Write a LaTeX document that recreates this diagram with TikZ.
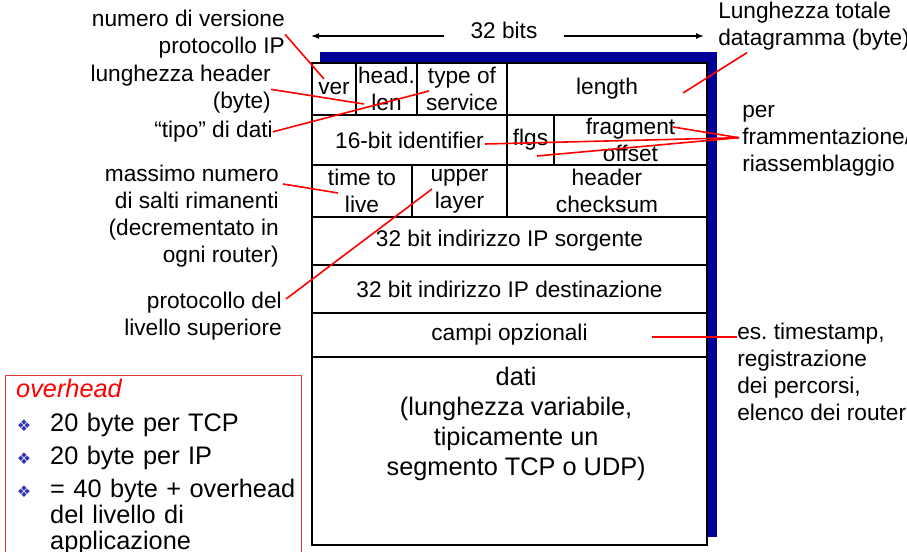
\documentclass[tikz,border=0pt]{standalone}
\usepackage{fontspec}
\setmainfont{Liberation Sans}
\newfontfamily\dingfont{DejaVu Sans}
\usetikzlibrary{arrows.meta,positioning,calc}

\definecolor{shadowblue}{RGB}{0,0,150}
\definecolor{bulletblue}{RGB}{51,51,178}
\definecolor{boxred}{RGB}{230,60,60}
\newcommand{\labfont}{\fontsize{17}{20.25}\selectfont}
\newcommand{\datafont}{\fontsize{19}{22.5}\selectfont}
\newcommand{\boxfont}{\fontsize{19}{19.5}\selectfont}
\newcommand{\ovbullet}{\hspace*{0.5pt}{\dingfont\fontsize{12}{12}\selectfont\textcolor{bulletblue}{❖}}}
\frenchspacing

\begin{document}
\begin{tikzpicture}[x=0.75pt,y=-0.75pt,>=Latex,
  field/.style={draw=black,line width=1.3pt,fill=white,inner sep=0pt,align=center,font=\labfont},
  cell/.style n args={2}{minimum width=#1*0.75pt,minimum height=#2*0.75pt},
  note/.style={inner sep=0pt,font=\labfont},
  pointer/.style={draw=red,line width=1.2pt}]
\useasboundingbox (0,0) rectangle (907,552);

% width of the header
\node[note,inner xsep=20pt] (bits) at (504,30) {32 bits};
\coordinate (bl) at (311,36);
\coordinate (br) at (704,36);
\draw[-{Latex[length=6pt,width=4.5pt]},line width=1.1pt] (bits.west |- bl) -- (bl);
\draw[-{Latex[length=6pt,width=4.5pt]},line width=1.1pt] (bits.east |- br) -- (br);

% datagram
\fill[shadowblue] (320,52) rectangle (717,537);
\node[field,cell={44}{52}] (ver) at (334,89) {ver};
\node[field,cell={61}{52}] (hlen) at (386.5,89) {head.\\len};
\node[field,cell={90}{52}] (tos) at (462,89) {type of\\service};
\node[field,cell={200}{52}] (len) at (607,89) {length};
\node[field,cell={195}{50}] (ident) at (409.5,140) {16-bit identifier};
\node[field,cell={47}{50}] (flgs) at (530.5,140) {flgs};
\node[field,cell={153}{50}] (frag) at (630.5,140) {fragment\\offset};
\node[field,cell={100}{52}] (ttl) at (362,191) {time to\\live};
\node[field,cell={95}{52}] (proto) at (459.5,191) {upper\\layer};
\node[field,cell={200}{52}] (csum) at (607,191) {header\\checksum};
\node[field,cell={395}{48}] (src) at (509.5,241) {32 bit indirizzo IP sorgente};
\node[field,cell={395}{48}] (dst) at (509.5,289) {32 bit indirizzo IP destinazione};
\node[field,cell={395}{44}] (opt) at (509.5,335) {campi opzionali};
\node[field,cell={395}{188}] (data) at (509.5,451) {};
\node[note,font=\datafont,align=center,below=8pt of data.north,xshift=5pt] (datatxt) {dati\\(lunghezza variabile,\\tipicamente un\\segmento TCP o UDP)};

% labels
\node[note,align=right,anchor=north east] (versnote) at (285,10) {numero di versione\\protocollo IP};
\node[note,align=right,anchor=north east] (hlennote) at (271,65) {lunghezza header\\(byte)};
\node[note,anchor=north east] (tiponote) at (273,121) {“tipo” di dati};
\node[note,align=right,anchor=north east] (ttlnote) at (279,165) {massimo numero\\di salti rimanenti\\(decrementato in\hspace*{4.5pt}\\ogni router)};
\node[note,align=right,anchor=north east] (upnote) at (282,292) {protocollo del\\livello superiore};
\node[note,align=left,anchor=north west] (lennote) at (718,2) {Lunghezza totale\\datagramma (byte)};
\node[note,align=left,anchor=north west] (fragnote) at (742,105) {per\\frammentazione/\\riassemblaggio};
\node[note,align=left,anchor=north west] (optnote) at (737,323) {es. timestamp,\\registrazione\\dei percorsi,\\elenco dei router};

\coordinate (pver) at (324,79);
\coordinate (phlen) at (364,104);
\coordinate (ptos) at (429,91);
\coordinate (pttl) at (338,193);
\coordinate (pproto) at (432,189);
\coordinate (plen) at (683,93);
\coordinate (pfrag) at (673,127);
\coordinate (pid) at (485,144);
\coordinate (pflg) at (537,156);
\coordinate (popt) at (652,337);

\draw[pointer] (versnote.east) -- (pver);
\draw[pointer] (hlennote.east) -- (phlen);
\draw[pointer] (tiponote.east) -- (ptos);
\draw[pointer] ($(ttlnote.north east)+(4,19)$) -- (pttl);
\draw[pointer] ($(upnote.north east)+(4,7)$) -- (pproto);
\draw[pointer] (plen) -- ($(lennote.south west)+(29,2)$);
\foreach \p in {pfrag,pid,pflg}
  \draw[pointer] ($(fragnote.west)+(-3,-3)$) -- (\p);
\draw[pointer] (popt) -- (popt -| optnote.west);

% overhead
\node[note,draw=boxred,line width=0.8pt,anchor=north west,inner xsep=8pt,inner ysep=3pt,text width=206pt,align=left,font=\boxfont,text depth=140pt] (ovhbox) at (5,375) {\begin{tabular}[t]{@{}p{25.5pt}@{}l@{}}
\multicolumn{2}{@{}l@{}}{\textcolor{red}{\itshape overhead}}\\[5.25pt]
\ovbullet & 20 byte per TCP\\[5.25pt]
\ovbullet & 20 byte per IP\\[5.25pt]
\ovbullet & = 40 byte + overhead\\
 & del livello di\\
 & applicazione
\end{tabular}};
\end{tikzpicture}
\end{document}
